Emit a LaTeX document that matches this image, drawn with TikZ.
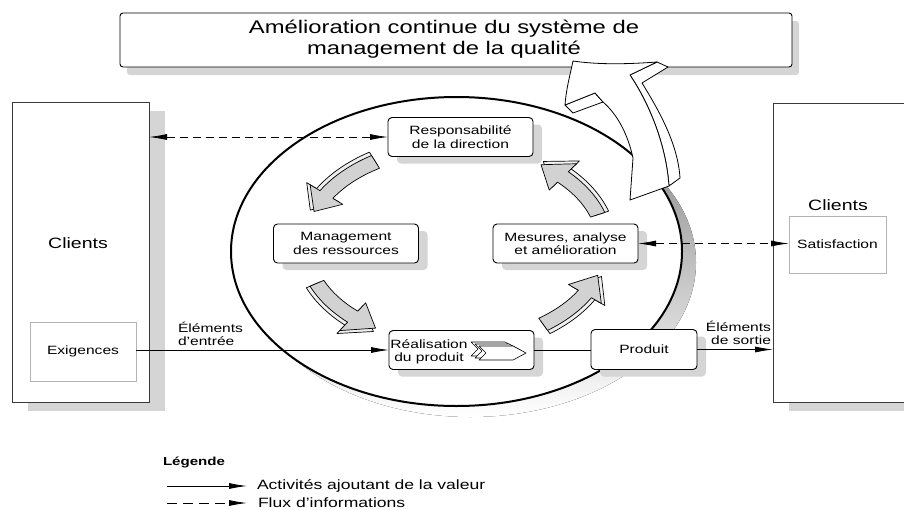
\documentclass[tikz,border=0pt]{standalone}
\usepackage{fontspec}
\setmainfont{Liberation Sans}[FakeStretch=1.3]
\usetikzlibrary{arrows.meta,shadows}
\definecolor{shade}{HTML}{D5D5D5}
\definecolor{arrowgray}{HTML}{D2D2D2}
\definecolor{arrowside}{HTML}{EFEFEF}
\definecolor{boxline}{HTML}{3A3A3A}
\definecolor{lightline}{HTML}{B4B4B4}

\newcommand{\cyclearrow}[5]{%
  \pgfmathsetmacro{\cyRa}{150+#4}\pgfmathsetmacro{\cyRb}{98+#4}%
  \pgfmathsetmacro{\cyOa}{\cyRa+7.5}\pgfmathsetmacro{\cyOb}{\cyRb+7.5}%
  \pgfmathsetmacro{\cyIa}{\cyRa-7.5}\pgfmathsetmacro{\cyIb}{\cyRb-7.5}%
  \pgfmathsetmacro{\cyHOa}{\cyRa+19}\pgfmathsetmacro{\cyHOb}{\cyRb+19}%
  \pgfmathsetmacro{\cyHIa}{\cyRa-19}\pgfmathsetmacro{\cyHIb}{\cyRb-19}%
  \draw[#5, shift={(455,245)}] (#1:{\cyOa} and {\cyOb})
    arc[start angle=#1, end angle=#3, x radius=\cyOa, y radius=\cyOb]
    -- (#3:{\cyHOa} and {\cyHOb}) -- (#2:{\cyRa} and {\cyRb}) -- (#3:{\cyHIa} and {\cyHIb})
    -- (#3:{\cyIa} and {\cyIb})
    arc[start angle=#3, end angle=#1, x radius=\cyIa, y radius=\cyIb] -- cycle;
}

\begin{document}
\begin{tikzpicture}[x=1pt,y=-1pt,
  >={Latex[length=18pt,width=6pt]},
  every node/.style={inner sep=0pt, outer sep=0pt},
  boxfont/.style={font=\fontsize{12}{13.5}\selectfont},
  rbox/.style={boxfont, draw=black, line width=0.9pt, fill=white, rounded corners=4pt,
    minimum width=145pt, minimum height=39pt, align=center,
    drop shadow={shadow xshift=9pt, shadow yshift=-7pt, fill=shade, opacity=1}},
  titlebox/.style={draw=black, line width=0.9pt, fill=white, rounded corners=3pt,
    drop shadow={shadow xshift=7pt, shadow yshift=-8pt, fill=shade, opacity=1}},
  clientbox/.style={draw=boxline, line width=0.8pt, fill=white,
    drop shadow={shadow xshift=16pt, shadow yshift=-9pt, fill=shade, opacity=1}},
  subbox/.style={boxfont, draw=lightline, line width=0.8pt, fill=white},
  bigfont/.style={font=\fontsize{15}{17}\selectfont},
  legtext/.style={font=\fontsize{13.5}{15}\selectfont},
  flow/.style={line width=0.8pt},
  info/.style={line width=0.8pt, dash pattern=on 8pt off 5pt},
  cyfront/.style={fill=arrowgray, draw=black, line width=0.7pt, line join=round},
  cyside/.style={fill=arrowside, draw=black, line width=0.7pt, line join=round},
  bigarrow/.style={fill=white, draw=black, line width=0.8pt, line join=round},
  icon/.style={fill=white, draw=black, line width=0.6pt, line join=round}
]
\useasboundingbox (0,0) rectangle (904,509);
\clip (0,0) rectangle (904,509);

% title
\node[titlebox, minimum width=672pt, minimum height=54pt] (title) at (456,40) {};
\node[font=\fontsize{18.3}{21}\selectfont, align=center] (titletext) at (444,39)
  {Amélioration continue du système de\\management de la qualité};

% central ellipse
\fill[shade] (470.5,262.5) ellipse[x radius=225.5, y radius=154.5];
\draw[line width=2pt, fill=white] (456.5,251.5) ellipse[x radius=225.5, y radius=154.5];

% big improvement arrow
\draw[bigarrow] (657,62) -- (668,67) -- (642,83)
  .. controls (660,112) and (678,145) .. (680,178) -- (669,186)
  .. controls (666,145) and (650,105) .. (630,75) -- cycle;
\draw[bigarrow] (565,105) -- (573,113) -- (603,102) -- (595,93) -- cycle;
\draw[bigarrow] (573,61) .. controls (600,65) and (630,64) .. (657,62) -- (630,75)
  .. controls (650,105) and (666,145) .. (669,186) -- (630,200) -- (633,158)
  .. controls (628,135) and (618,115) .. (603,102) -- (595,93) -- (565,105)
  .. controls (566,90) and (570,75) .. (573,61) -- cycle;

% cycle arrows
\cyclearrow{-122}{-160}{-149}{4}{cyside}
\cyclearrow{-122}{-160}{-149}{0}{cyfront}
\cyclearrow{157}{122}{133}{4}{cyside}
\cyclearrow{157}{122}{133}{0}{cyfront}
\cyclearrow{54}{18}{30}{4}{cyside}
\cyclearrow{54}{18}{30}{0}{cyfront}
\cyclearrow{-18}{-55}{-44}{4}{cyside}
\cyclearrow{-18}{-55}{-44}{0}{cyfront}

% clients
\node[clientbox, minimum width=137pt, minimum height=300pt] (clientsL) at (80.5,252) {};
\node[bigfont] (clientsLtext) at (78,243) {Clients};
\node[subbox, minimum width=106pt, minimum height=59pt] (exig) at (83,351.5) {Exigences};

\node[clientbox, minimum width=147pt, minimum height=299pt] (clientsR) at (846.5,252.5) {};
\node[bigfont] (clientsRtext) at (838,205) {Clients};
\node[subbox, minimum width=97pt, minimum height=57pt] (satis) at (837.5,244.5) {Satisfaction};

% process boxes
\node[rbox] (resp) at (460.5,137) {Responsabilité\\de la direction};
\node[rbox] (mgmt) at (346,243.5) {Management\\des ressources};
\node[rbox] (mes) at (565.5,243.5) {Mesures, analyse\\et amélioration};
\node[rbox] (real) at (461.5,350) {};
\foreach \dx/\dy in {-8/-4,-4/-2,0/0}
  \draw[icon, shift={(\dx,\dy)}] (479,346) -- (513,346) -- (526,353) -- (513,360) -- (479,360) -- (486,353) -- cycle;
\node[boxfont, align=center] (realtext) at (429,352) {Réalisation\\du produit};
\node[rbox, minimum width=106pt, minimum height=40pt] (prod) at (644,349.5) {Produit};

% flows
\draw[info, <->] (resp.west -| clientsL.east) -- (resp.west);
\draw[info, <->] (mes.east) -- (mes.east -| satis.west);
\draw[flow, ->] (real.west -| exig.east) -- (real.west);
\draw[flow] (real.east) -- (real.east -| prod.west);
\draw[flow, ->] (prod.east) -- (prod.east -| clientsR.west);

\node[boxfont, align=left, anchor=west] (inlabel) at (178,334) {Éléments\\d'entrée};
\node[boxfont, align=right, anchor=east] (outlabel) at (771,333) {Éléments\\de sortie};

% legend
\node[font=\fontsize{11.6}{13}\selectfont\bfseries, anchor=west] (legtitle) at (163,462) {Légende};
\coordinate (l1a) at (167,486);
\coordinate (l1b) at (247,486);
\draw[flow, ->] (l1a) -- (l1b);
\node[legtext, anchor=west] (l1t) at (257,486) {Activités ajoutant de la valeur};
\coordinate (l2a) at (167,503);
\coordinate (l2b) at (247,503);
\draw[line width=0.8pt, dash pattern=on 10pt off 6pt, ->] (l2a) -- (l2b);
\node[legtext, anchor=west] (l2t) at (258,503) {Flux d'informations};
\end{tikzpicture}
\end{document}
